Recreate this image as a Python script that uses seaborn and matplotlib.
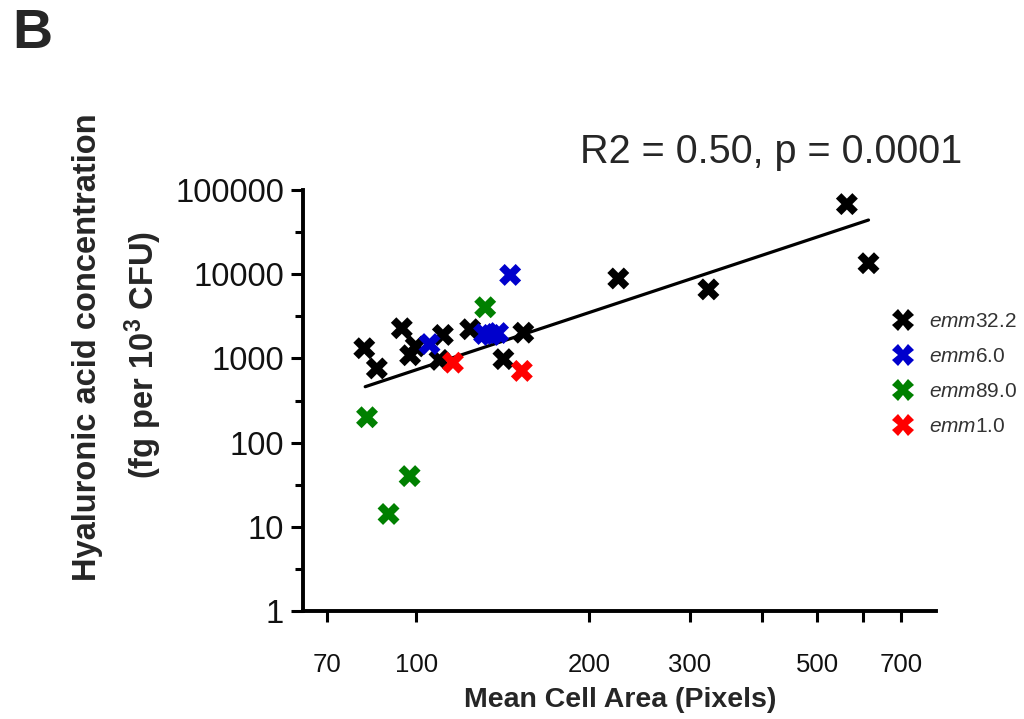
import numpy as np
import pandas as pd
import matplotlib
matplotlib.use("Agg")
import matplotlib.pyplot as plt
from matplotlib import font_manager
from matplotlib.ticker import FixedLocator, NullFormatter
import seaborn as sns

# ---- data ----
groups = ["emm32.2", "emm6.0", "emm89.0", "emm1.0"]
colors = ["#000000", "#0000cc", "#008000", "#ff0000"]

area_emm32 = [81.2, 85.4, 94.4, 97.6, 99.8, 109.8, 111.3, 124.2, 141.9, 153.7, 225, 323, 563, 614]
ha_emm32 = [1320, 760, 2280, 1090, 1390, 960, 1900, 2220, 980, 2020, 8900, 6600, 68000, 13500]

area_emm6 = [105.5, 131.3, 135.0, 138.9, 145.8]
ha_emm6 = [1480, 1950, 1900, 2000, 9800]

area_emm89 = [82.1, 89.5, 97.4, 131.9]
ha_emm89 = [200, 14.2, 40, 4050]

area_emm1 = [115.9, 152.8]
ha_emm1 = [890, 710]

fit_x = [81.5, 614]
fit_y = [461, 44000]

x_ticks = [70, 100, 200, 300, 400, 500, 600, 700]
x_ticklabels = ["70", "100", "200", "300", "", "500", "", "700"]
y_ticks = [1, 10, 100, 1000, 10000, 100000]
y_ticklabels = ["1", "10", "100", "1000", "10000", "100000"]
y_minor = [10 ** (k + 0.5) for k in range(5)]

annotation = "R2 = 0.50, p = 0.0001"

df = pd.concat([
    pd.DataFrame({"area": area_emm32, "ha": ha_emm32, "type": groups[0]}),
    pd.DataFrame({"area": area_emm6, "ha": ha_emm6, "type": groups[1]}),
    pd.DataFrame({"area": area_emm89, "ha": ha_emm89, "type": groups[2]}),
    pd.DataFrame({"area": area_emm1, "ha": ha_emm1, "type": groups[3]}),
], ignore_index=True)

# ---- style ----
sns.set_style("ticks")
plt.rcParams["font.family"] = ["Liberation Sans", "DejaVu Sans"]
plt.rcParams["mathtext.fontset"] = "custom"
plt.rcParams["mathtext.rm"] = "Liberation Sans"
plt.rcParams["mathtext.it"] = "Liberation Sans:italic"
plt.rcParams["mathtext.bf"] = "Liberation Sans:bold"

names = {f.name for f in font_manager.fontManager.ttflist}
narrow = "Liberation Sans Narrow" in names
xfam = ["Liberation Sans Narrow"] if narrow else ["Liberation Sans"]
xtick_size = 22.5 if narrow else 18.5
xtitle_size = 24.5 if narrow else 20.5

fig = plt.figure(figsize=(10.24, 7.19), dpi=100)
ax = fig.add_axes([303 / 1024, 1 - 611 / 719, (936 - 303) / 1024, (611 - 190) / 719])

sns.scatterplot(data=df, x="area", y="ha", hue="type", hue_order=groups,
                palette=colors, marker="X", s=250, linewidth=0, ax=ax,
                zorder=3, clip_on=False)
sns.lineplot(x=fit_x, y=fit_y, color="black", linewidth=2.3, ax=ax, zorder=2)

ax.set_xscale("log")
ax.set_yscale("log")
ax.set_xlim(63.5, 805)
ax.set_ylim(1, 100000)

ax.xaxis.set_major_locator(FixedLocator(x_ticks))
ax.set_xticklabels(x_ticklabels, fontfamily=xfam, fontsize=xtick_size)
ax.xaxis.set_minor_locator(FixedLocator([]))
ax.xaxis.set_minor_formatter(NullFormatter())
ax.yaxis.set_major_locator(FixedLocator(y_ticks))
ax.set_yticklabels(y_ticklabels, fontsize=23.5)
ax.yaxis.set_minor_locator(FixedLocator(y_minor))
ax.yaxis.set_minor_formatter(NullFormatter())

for s in ["top", "right"]:
    ax.spines[s].set_visible(False)
for s in ["left", "bottom"]:
    ax.spines[s].set_linewidth(2.8)
    ax.spines[s].set_color("black")

ax.tick_params(axis="x", which="major", length=8, width=2.2, pad=22, colors="black")
ax.tick_params(axis="y", which="major", length=8.5, width=2.2, pad=5, colors="black")
ax.tick_params(axis="y", which="minor", length=6, width=2.2, colors="black")
for lab in ax.get_xticklabels() + ax.get_yticklabels():
    lab.set_color("#111111")

ax.set_xlabel("")
ax.set_ylabel("")

fig.text(620 / 1024, 1 - 700 / 719, "Mean Cell Area (Pixels)", ha="center", va="center",
         fontsize=xtitle_size, fontweight="bold", family=xfam)
fig.text(88 / 1024, 1 - 347 / 719, "Hyaluronic acid concentration", rotation=90,
         ha="center", va="center", fontsize=23.5, fontweight="bold")
fig.text(143 / 1024, 1 - 355 / 719, r"(fg per 10$^{\mathbf{3}}$ CFU)", rotation=90,
         ha="center", va="center", fontsize=23.5, fontweight="bold")

fig.text(771 / 1024, 1 - 163 / 719, annotation, ha="center", va="baseline", fontsize=28.5)
fig.text(12 / 1024, 1 - 48 / 719, "B", ha="left", va="baseline", fontsize=40, fontweight="bold")

handles, labels = ax.get_legend_handles_labels()
leg_labels = [r"$\mathit{emm}$" + g[3:] for g in labels]
leg = ax.legend(handles, leg_labels, loc="upper left", bbox_to_anchor=(872 / 1024, 1 - 302 / 719),
                bbox_transform=fig.transFigure, frameon=False, fontsize=15,
                handletextpad=0.25, labelspacing=0.76, markerscale=1.0, borderpad=0)
for t in leg.get_texts():
    t.set_color("#333333")

fig.savefig("out.png", dpi=100)
